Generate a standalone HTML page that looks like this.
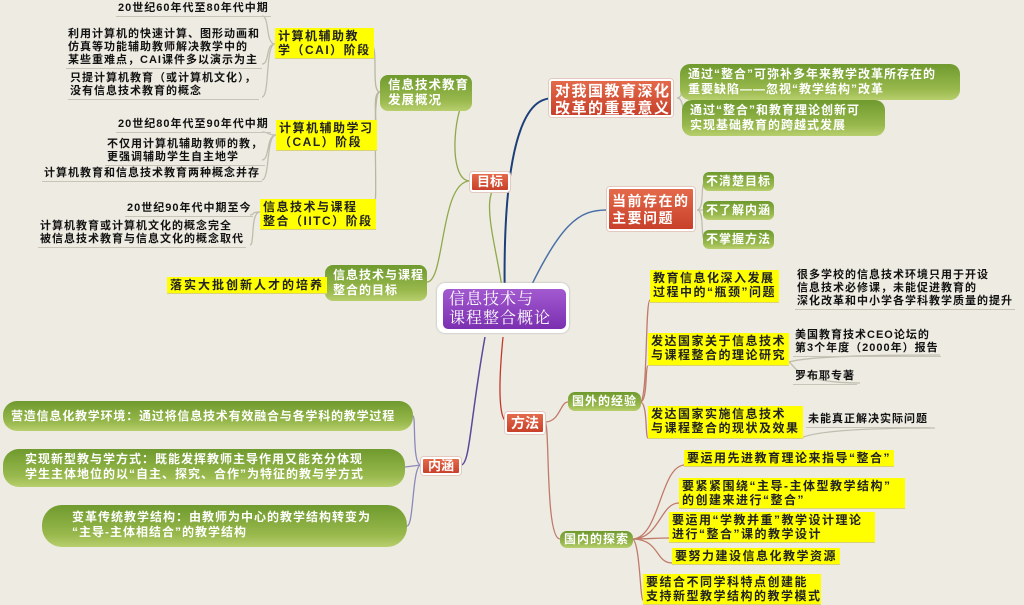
<!DOCTYPE html>
<html><head><meta charset="utf-8">
<style>
body{margin:0;width:1024px;height:603px;background:#eeece2;position:relative;overflow:hidden;font-family:"Liberation Sans","Noto Sans CJK SC",sans-serif;}
.a{position:absolute;white-space:nowrap;}
.t{font-size:11px;font-weight:bold;letter-spacing:1px;line-height:13px;color:#111;border-bottom:1px solid #c8c5b8;padding:0 2px 1px 2px;}
.y{background:#ffff00;font-size:12px;font-weight:bold;letter-spacing:1.5px;line-height:14px;color:#222;padding:1px 3px;border-bottom:1px solid #d8d37a;}
.g{background:linear-gradient(#6f9a2e,#98b84c 70%,#b8cf6e);color:#fff;font-size:12px;letter-spacing:1px;line-height:15px;border-radius:10px;padding:3px 8px;font-weight:bold;}
.r{background:linear-gradient(#e46a4a,#c8402a);color:#fff;border:2px solid #fff;box-shadow:0 0 0 1px #e3c9c0;font-weight:bold;border-radius:3px;}
</style></head><body>
<svg class="a" style="left:0;top:0" width="1024" height="603">
<g fill="none" stroke-width="1.3">
<path d="M505 310 C500 250,470 180,510 181" stroke="#8fa84c"/>
<path d="M505 310 C500 100,540 100,551 98" stroke="#1d3f7a" stroke-width="2"/>
<path d="M520 310 C560 220,580 210,607 210" stroke="#4a6fa8" stroke-width="1.5"/>
<path d="M503 337 C495 420,505 422,508 422" stroke="#c0392b"/>
<path d="M485 337 C470 420,470 465,461 465" stroke="#5a4a9a" stroke-width="1.5"/>
<path d="M470 181 C445 181,455 92,472 92" stroke="#8fa84c"/>
<path d="M470 181 C440 181,445 282,427 282" stroke="#8fa84c"/>
<path d="M380 92 C370 92,380 44,370 44" stroke="#b8b8a0"/>
<path d="M380 92 C370 92,380 135,374 135" stroke="#b8b8a0"/>
<path d="M380 92 C370 92,380 212,373 212" stroke="#b8b8a0"/>
<path d="M275 44 C265 44,270 16,262 16 M275 44 C265 44,270 64,262 64 M275 44 C265 44,270 97,262 97" stroke="#c0bdb0"/>
<path d="M276 135 C266 135,270 132,262 132 M276 135 C266 135,270 160,262 160 M276 135 C266 135,270 180,262 180" stroke="#c0bdb0"/>
<path d="M260 212 C250 212,255 215,250 215 M260 212 C250 212,255 245,250 245" stroke="#c0bdb0"/>
<path d="M325 282 L317 286" stroke="#c0bdb0"/>
<path d="M677 98 C685 98,680 78,690 78 M677 98 C685 98,680 115,690 115" stroke="#c0bdb0"/>
<path d="M697 210 C705 210,700 182,705 182 M697 210 L705 210 M697 210 C705 210,700 240,705 240" stroke="#c0bdb0"/>
<path d="M421 465 C412 465,416 416,413 416 M421 465 L405 467 M421 465 C412 465,414 526,407 526" stroke="#8d88bb"/>
<path d="M545 422 C560 422,560 402,568 402" stroke="#c07a6a"/>
<path d="M545 422 C550 422,545 539,560 539" stroke="#c07a6a"/>
<path d="M640 402 C648 402,645 300,650 300 M640 402 C648 402,645 366,648 366 M640 402 C648 402,645 438,648 438" stroke="#c07a6a"/>
<path d="M788 362 C795 362,790 355,940 355 M788 362 C795 362,790 383,860 383 M800 438 C805 438,805 428,935 428" stroke="#c0bdb0"/>
<path d="M632 539 C660 539,660 465,685 465 M632 539 C660 539,660 503,679 503 M632 539 C650 539,655 538,669 538 M632 539 C660 539,655 563,672 563 M632 539 C640 539,640 600,643 600" stroke="#c07a6a"/>
</g></svg>

<div class="a" style="left:437px;top:283px;width:132px;height:50px;background:#fff;border-radius:8px;box-shadow:0 0 2px #aaa"></div>
<div class="a" style="left:443px;top:289px;width:123px;height:40px;background:linear-gradient(#a35ad0,#7b2fb0);border-radius:5px;color:#fff;font-size:16px;line-height:19px;letter-spacing:1px;padding:1px 0 0 6px;box-sizing:border-box;font-family:'Liberation Serif','Noto Serif CJK SC',serif">信息技术与<br>课程整合概论</div>

<div class="a r" style="left:470px;top:172px;width:36px;height:16px;font-size:13px;line-height:16px;text-align:center">目标</div>
<div class="a r" style="left:505px;top:412px;width:36px;height:18px;font-size:14px;line-height:18px;text-align:center">方法</div>
<div class="a r" style="left:421px;top:457px;width:36px;height:14px;font-size:13px;line-height:14px;text-align:center">内涵</div>
<div class="a r" style="left:549px;top:79px;width:124px;height:38px;font-size:15px;line-height:17px;padding:2px 0 0 4px;box-sizing:border-box;letter-spacing:1.5px">对我国教育深化<br>改革的重要意义</div>
<div class="a r" style="left:607px;top:187px;width:88px;height:44px;font-size:14px;line-height:17px;padding:4px 0 0 3px;box-sizing:border-box;letter-spacing:1.5px">当前存在的<br>主要问题</div>

<div class="a g" style="left:680px;top:64px;width:264px;">通过“整合”可弥补多年来教学改革所存在的<br>重要缺陷——忽视“教学结构”改革</div>
<div class="a g" style="left:682px;top:100px;width:187px;">通过“整合”和教育理论创新可<br>实现基础教育的跨越式发展</div>
<div class="a g" style="left:703px;top:172px;padding:2px 3px;border-radius:6px">不清楚目标</div>
<div class="a g" style="left:703px;top:201px;padding:2px 3px;border-radius:6px">不了解内涵</div>
<div class="a g" style="left:703px;top:230px;padding:2px 3px;border-radius:6px">不掌握方法</div>

<div class="a g" style="left:380px;top:75px;width:76px;height:30px;padding:3px 8px;font-size:12.5px;border-radius:8px">信息技术教育<br>发展概况</div>
<div class="a g" style="left:325px;top:265px;width:86px;height:30px;padding:3px 8px;font-size:12px;border-radius:8px">信息技术与课程<br>整合的目标</div>

<div class="a y" style="left:275px;top:28px;">计算机辅助教<br>学（CAI）阶段</div>
<div class="a y" style="left:276px;top:120px;">计算机辅助学习<br>（CAL）阶段</div>
<div class="a y" style="left:260px;top:199px;">信息技术与课程<br>整合（IITC）阶段</div>
<div class="a y" style="left:167px;top:277px;letter-spacing:2px">落实大批创新人才的培养</div>

<div class="a t" style="left:116px;top:2px;">20世纪60年代至80年代中期</div>
<div class="a t" style="left:66px;top:28px;">利用计算机的快速计算、图形动画和<br>仿真等功能辅助教师解决教学中的<br>某些重难点，CAI课件多以演示为主</div>
<div class="a t" style="left:68px;top:72px;">只提计算机教育（或计算机文化），<br>没有信息技术教育的概念</div>
<div class="a t" style="left:116px;top:118px;">20世纪80年代至90年代中期</div>
<div class="a t" style="left:105px;top:138px;">不仅用计算机辅助教师的教，<br>更强调辅助学生自主地学</div>
<div class="a t" style="left:42px;top:167px;">计算机教育和信息技术教育两种概念并存</div>
<div class="a t" style="left:125px;top:202px;">20世纪90年代中期至今</div>
<div class="a t" style="left:38px;top:220px;">计算机教育或计算机文化的概念完全<br>被信息技术教育与信息文化的概念取代</div>

<div class="a g" style="left:3px;top:401px;width:394px;height:24px;line-height:24px;padding:3px 8px;border-radius:14px;letter-spacing:0.8px">营造信息化教学环境：通过将信息技术有效融合与各学科的教学过程</div>
<div class="a g" style="left:3px;top:449px;width:380px;height:32px;padding:3px 0 3px 22px;border-radius:16px">实现新型教与学方式：既能发挥教师主导作用又能充分体现<br>学生主体地位的以“自主、探究、合作”为特征的教与学方式</div>
<div class="a g" style="left:42px;top:505px;width:335px;height:36px;padding:5px 0 1px 30px;border-radius:20px">变革传统教学结构：由教师为中心的教学结构转变为<br>“主导-主体相结合”的教学结构</div>

<div class="a g" style="left:568px;top:392px;padding:2px 4px;border-radius:7px">国外的经验</div>
<div class="a g" style="left:560px;top:531px;padding:1px 4px;border-radius:7px">国内的探索</div>

<div class="a y" style="left:650px;top:270px;height:30px">教育信息化深入发展<br>过程中的“瓶颈”问题</div>
<div class="a t" style="left:795px;top:269px;">很多学校的信息技术环境只用于开设<br>信息技术必修课，未能促进教育的<br>深化改革和中小学各学科教学质量的提升</div>
<div class="a y" style="left:648px;top:333px;height:30px">发达国家关于信息技术<br>与课程整合的理论研究</div>
<div class="a t" style="left:793px;top:329px;">美国教育技术CEO论坛的<br>第3个年度（2000年）报告</div>
<div class="a t" style="left:793px;top:370px;">罗布耶专著</div>
<div class="a y" style="left:648px;top:406px;height:30px">发达国家实施信息技术<br>与课程整合的现状及效果</div>
<div class="a t" style="left:806px;top:413px;">未能真正解决实际问题</div>

<div class="a y" style="left:684px;top:450px;">要运用先进教育理论来指导“整合”</div>
<div class="a y" style="left:679px;top:478px;width:220px;">要紧紧围绕“主导-主体型教学结构”<br>的创建来进行“整合”</div>
<div class="a y" style="left:669px;top:512px;width:200px;">要运用“学教并重”教学设计理论<br>进行“整合”课的教学设计</div>
<div class="a y" style="left:672px;top:548px;">要努力建设信息化教学资源</div>
<div class="a y" style="left:643px;top:574px;width:172px;">要结合不同学科特点创建能<br>支持新型教学结构的教学模式</div>
</body></html>
